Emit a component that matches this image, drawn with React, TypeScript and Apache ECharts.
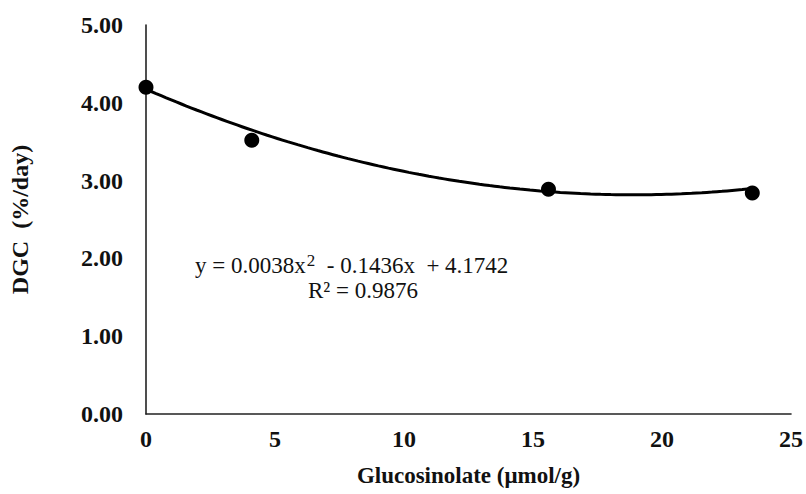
import React, { useEffect, useRef } from "react";
import * as echarts from "echarts";

const glucosinolate = [0, 4.1, 15.6, 23.5];
const dgc = [4.2, 3.52, 2.89, 2.84];
const trendCoefficients = [4.1742, -0.1436, 0.0038]; // c0 + c1 x + c2 x^2
const equationText = ["y = 0.0038x", "2", "  - 0.1436x  + 4.1742"];
const r2Text = "R² = 0.9876";
const xAxisTitle = "Glucosinolate (μmol/g)";
const yAxisTitle = "DGC  (%/day)";

const FONT = "'Liberation Serif', 'Times New Roman', serif";

function trendPoints(): number[][] {
  const pts: number[][] = [];
  const x0 = glucosinolate[0];
  const x1 = glucosinolate[glucosinolate.length - 1];
  const n = 60;
  for (let i = 0; i <= n; i++) {
    const x = x0 + ((x1 - x0) * i) / n;
    const y = trendCoefficients[0] + trendCoefficients[1] * x + trendCoefficients[2] * x * x;
    pts.push([x, y]);
  }
  return pts;
}

export default function App() {
  const ref = useRef<HTMLDivElement>(null);
  useEffect(() => {
    if (!ref.current) return;
    const chart = echarts.init(ref.current, undefined, { renderer: "svg" });
    chart.setOption({
      animation: false,
      backgroundColor: "#ffffff",
      grid: { left: 146, right: 14, top: 25, bottom: 80, containLabel: false },
      xAxis: {
        type: "value",
        min: 0,
        max: 25,
        interval: 5,
        name: xAxisTitle,
        nameLocation: "middle",
        nameGap: 50,
        nameTextStyle: { fontFamily: FONT, fontWeight: "bold", fontSize: 23, color: "#111" },
        axisLine: { show: true, lineStyle: { color: "#222", width: 1.6 } },
        axisTick: { show: false },
        splitLine: { show: false },
        axisLabel: { fontFamily: FONT, fontWeight: "bold", fontSize: 24, color: "#111", margin: 13 },
      },
      yAxis: {
        type: "value",
        min: 0,
        max: 5,
        interval: 1,
        name: yAxisTitle,
        nameLocation: "middle",
        nameGap: 114,
        nameRotate: 90,
        nameTextStyle: { fontFamily: FONT, fontWeight: "bold", fontSize: 24, color: "#111" },
        axisLine: { show: true, lineStyle: { color: "#222", width: 1.6 } },
        axisTick: { show: false },
        splitLine: { show: false },
        axisLabel: {
          fontFamily: FONT,
          fontWeight: "bold",
          fontSize: 24,
          color: "#111",
          margin: 23,
          formatter: (v: number) => v.toFixed(2),
        },
      },
      series: [
        {
          type: "line",
          data: trendPoints(),
          showSymbol: false,
          smooth: true,
          lineStyle: { color: "#000", width: 3 },
          silent: true,
          z: 2,
        },
        {
          type: "scatter",
          data: glucosinolate.map((x, i) => [x, dgc[i]]),
          symbol: "circle",
          symbolSize: 15,
          itemStyle: { color: "#000", opacity: 1 },
          z: 3,
        },
      ],
      graphic: [
        {
          type: "text",
          left: 195,
          top: 252,
          style: {
            text: `{a|${equationText[0]}}{s|${equationText[1]}}{a|${equationText[2]}}`,
            rich: {
              a: { fontFamily: FONT, fontSize: 23, fill: "#111" },
              s: { fontFamily: FONT, fontSize: 17, fill: "#111", padding: [0, 0, 9, 1] },
            },
          },
        },
        {
          type: "text",
          left: 308,
          top: 279,
          style: { text: r2Text, fontFamily: FONT, fontSize: 23, fill: "#111" },
        },
      ],
    });
    return () => chart.dispose();
  }, []);
  return (
    <div
      ref={ref}
      style={{ position: "absolute", left: 0, top: 0, width: 806, height: 494 }}
    />
  );
}
